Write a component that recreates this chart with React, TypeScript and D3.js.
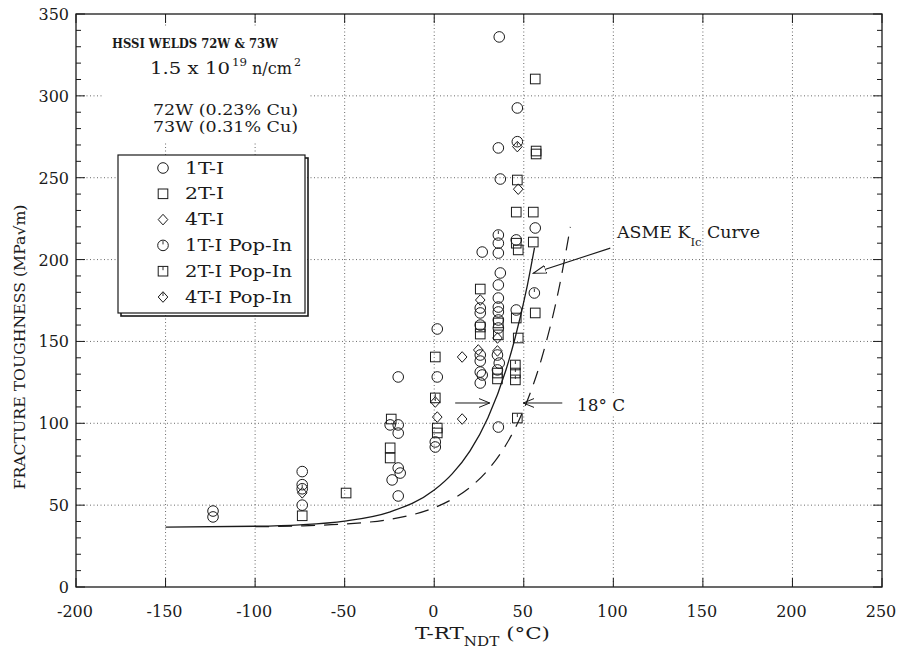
import * as d3 from "d3";

// data points: [T-RTndt (°C), K (MPa√m)]
const oneT: [number, number][] = [
  [-123.5, 46.4], [-123.5, 42.8],
  [-73.7, 70.5], [-73.7, 62.5], [-73.7, 50],
  [-20.1, 128.3], [-24.6, 99], [-20.1, 99], [-20.1, 94], [-20.1, 72.7], [-19, 69.6], [-23.5, 65.4], [-20.1, 55.6],
  [1.7, 157.6], [1.7, 128.3], [0.6, 88.6], [0.6, 85.5],
  [26.8, 204.6], [25.7, 170.4], [25.7, 167.4], [25.7, 160], [25.7, 141.7], [25.7, 138], [25.7, 131.3], [26.8, 129.5], [25.7, 124.6],
  [36.3, 336], [35.8, 268.2], [36.9, 249.2], [35.8, 210], [35.8, 204], [36.9, 191.8], [35.8, 184.5], [35.8, 176.5],
  [35.8, 171], [35.8, 168], [35.8, 163.1], [35.8, 158.2], [35.3, 141.7], [36.3, 136.8], [35.3, 132.6], [35.8, 97.7],
  [46.4, 292.6], [46.4, 272], [45.8, 212], [45.8, 169.2],
  [56.4, 219.3],
];
const twoT: [number, number][] = [
  [-73.7, 43.5], [-49.2, 57.4],
  [-24, 102.6], [-24.6, 85], [-24.6, 78.8],
  [0.6, 140.5], [1.7, 97.1], [1.7, 94.1],
  [25.7, 182], [25.7, 158.8], [25.7, 154.5],
  [35.8, 161.3], [35.8, 154], [35.3, 130.7], [35.3, 127.1],
  [46.4, 248.6], [45.8, 229], [45.8, 210], [46.9, 205.9], [45.8, 164.3], [46.9, 152.1],
  [56.4, 310.3], [56.9, 266.3], [56.9, 264.5], [55.3, 229], [55.3, 210.7], [56.4, 167.4],
];
const fourT: [number, number][] = [
  [-73.7, 57.5], [1.7, 103.8], [15.6, 140.5], [15.6, 102.6],
  [25.7, 175.3], [24.6, 144.8], [35.3, 152.1], [35.3, 144.2], [46.9, 243],
];
const oneTPop: [number, number][] = [[-73.7, 60], [35.8, 215], [55.9, 179.6]];
const twoTPop: [number, number][] = [[0.6, 115.5], [45.3, 135.6], [45.3, 130.7], [45.3, 126.5], [46.4, 103.2]];
const fourTPop: [number, number][] = [[0.6, 113], [46.4, 269]];

// ASME KIc curve and the same curve shifted by 18 °C
const kicCurve: [number, number][] = [
  [-150, 36.6], [-100, 37.1], [-75, 38.0], [-50, 40.3], [-25, 45.8], [0, 59.2], [10, 69.1],
  [20, 83.2], [30, 103.4], [40, 132.4], [45, 151.5], [52, 184.3], [56, 207.3],
];
const shiftedCurve: [number, number][] = [
  [-100, 36.8], [-75, 37.3], [-50, 38.5], [-25, 41.3], [0, 48.4], [10, 53.6], [20, 60.9],
  [30, 71.5], [40, 86.7], [50, 108.5], [60, 139.7], [70, 184.3], [76, 220],
];

const xTicks = [-200, -150, -100, -50, 0, 50, 100, 150, 200, 250];
const yTicks = [0, 50, 100, 150, 200, 250, 300, 350];
const legendLabels = ["1T-I", "2T-I", "4T-I", "1T-I Pop-In", "2T-I Pop-In", "4T-I Pop-In"];

const FONT = "'DejaVu Serif', 'Liberation Serif', serif";
const INK = "#1a1a1a";

type Kind = "circle" | "square" | "diamond";

function Marker({ kind, cx, cy, pop }: { kind: Kind; cx: number; cy: number; pop?: boolean }) {
  const s = 5.3;
  let shape;
  if (kind === "circle") shape = <circle cx={cx} cy={cy} r={s} />;
  else if (kind === "square") shape = <rect x={cx - s + 0.5} y={cy - s + 0.5} width={2 * s - 1} height={2 * s - 1} />;
  else shape = <path d={`M${cx},${cy - s}L${cx + s - 0.5},${cy}L${cx},${cy + s}L${cx - s + 0.5},${cy}Z`} />;
  return (
    <g fill="none" stroke={INK} strokeWidth={1}>
      {shape}
      {pop && <line x1={cx} y1={cy - s + 1} x2={cx} y2={cy - 1} strokeWidth={0.9} />}
    </g>
  );
}

export default function App() {
  const width = 901;
  const height = 654;
  const x = d3.scaleLinear().domain([-200, 250]).range([76, 882]);
  const y = d3.scaleLinear().domain([0, 350]).range([587, 14]);

  const line = d3
    .line<[number, number]>()
    .x((d) => x(d[0]))
    .y((d) => y(d[1]))
    .curve(d3.curveMonotoneX);

  const minorY = d3.range(0, 351, 10);
  const series: { pts: [number, number][]; kind: Kind; pop: boolean }[] = [
    { pts: oneT, kind: "circle", pop: false },
    { pts: twoT, kind: "square", pop: false },
    { pts: fourT, kind: "diamond", pop: false },
    { pts: oneTPop, kind: "circle", pop: true },
    { pts: twoTPop, kind: "square", pop: true },
    { pts: fourTPop, kind: "diamond", pop: true },
  ];

  const [x0, x1] = x.range();
  const [y0, y1] = y.range();

  return (
    <svg width={width} height={height} style={{ position: "absolute", left: 0, top: 0, background: "#fff" }}>
      <defs>
        <marker id="vhead" viewBox="0 0 12 10" refX="11" refY="5" markerWidth="12" markerHeight="10" markerUnits="userSpaceOnUse" orient="auto">
          <path d="M0,0.5L11,5L0,9.5" fill="none" stroke={INK} strokeWidth={1} />
        </marker>
        <marker id="thead" viewBox="0 0 14 10" refX="13" refY="5" markerWidth="14" markerHeight="10" markerUnits="userSpaceOnUse" orient="auto">
          <path d="M0,1L13,5L0,9Z" fill="#fff" stroke={INK} strokeWidth={1} />
        </marker>
      </defs>

      {/* dotted grid */}
      <g stroke="#444" strokeWidth={0.8} strokeDasharray="1 2.5">
        {xTicks.slice(1, -1).map((t) => (
          <line key={"gx" + t} x1={x(t)} x2={x(t)} y1={y1} y2={y0} />
        ))}
        {yTicks.slice(1, -1).map((t) => (
          <line key={"gy" + t} x1={x0} x2={x1} y1={y(t)} y2={y(t)} />
        ))}
      </g>

      {/* white patches behind the header and annotation */}
      <rect x={104} y={28} width={206} height={113} fill="#fff" />
      <rect x={572} y={394} width={58} height={22} fill="#fff" />

      {/* frame and ticks */}
      <rect x={x0} y={y1} width={x1 - x0} height={y0 - y1} fill="none" stroke={INK} strokeWidth={1.3} />
      <g stroke={INK} strokeWidth={1}>
        {minorY.map((t) => {
          const len = t % 50 === 0 ? 9 : 5;
          return (
            <g key={"ty" + t}>
              <line x1={x0} x2={x0 + len} y1={y(t)} y2={y(t)} />
              <line x1={x1} x2={x1 - len} y1={y(t)} y2={y(t)} />
            </g>
          );
        })}
        {xTicks.map((t) => (
          <g key={"tx" + t}>
            <line x1={x(t)} x2={x(t)} y1={y0} y2={y0 - 9} />
            <line x1={x(t)} x2={x(t)} y1={y1} y2={y1 + 9} />
          </g>
        ))}
      </g>

      {/* tick labels */}
      <g fontFamily={FONT} fontSize={16} fill={INK}>
        {yTicks.map((t) => (
          <text key={"ly" + t} x={69} y={y(t) + 6} textAnchor="end">{t}</text>
        ))}
        {xTicks.map((t) => (
          <text key={"lx" + t} x={x(t) - 1} y={617} textAnchor="middle">{t}</text>
        ))}
      </g>

      {/* axis titles */}
      <text
        fontFamily={FONT}
        fontSize={15}
        fill={INK}
        textAnchor="middle"
        textLength={285}
        lengthAdjust="spacingAndGlyphs"
        transform="translate(25,347) rotate(-90)"
      >
        FRACTURE TOUGHNESS (MPa√m)
      </text>
      <text fontFamily={FONT} fontSize={17} fill={INK} x={415} y={639} textLength={135} lengthAdjust="spacingAndGlyphs">
        T-RT
        <tspan fontSize={12} dy={7}>NDT</tspan>
        <tspan dy={-7}> (°C)</tspan>
      </text>

      {/* curves */}
      <path d={line(kicCurve) || ""} fill="none" stroke={INK} strokeWidth={1.3} />
      <path d={line(shiftedCurve) || ""} fill="none" stroke={INK} strokeWidth={1.2} strokeDasharray="14 9" />

      {/* data */}
      {series.map((s, i) =>
        s.pts.map((p, j) => (
          <Marker key={`m${i}-${j}`} kind={s.kind} pop={s.pop} cx={x(p[0])} cy={y(p[1])} />
        ))
      )}

      {/* annotations */}
      <line x1={x(98.3)} y1={y(207)} x2={x(55.3)} y2={y(191.6)} stroke={INK} strokeWidth={1.1} markerEnd="url(#thead)" />
      <text fontFamily={FONT} fontSize={16.5} fill={INK} x={617} y={238} textLength={143} lengthAdjust="spacingAndGlyphs">
        ASME K<tspan fontSize={11} dy={8}>Ic</tspan>
        <tspan dy={-8}> Curve</tspan>
      </text>
      <line x1={x(11.7)} y1={y(112.4)} x2={x(31)} y2={y(112.4)} stroke={INK} strokeWidth={1} markerEnd="url(#vhead)" />
      <line x1={x(71.5)} y1={y(112.4)} x2={x(49.7)} y2={y(112.4)} stroke={INK} strokeWidth={1} markerEnd="url(#vhead)" />
      <text fontFamily={FONT} fontSize={16.5} fill={INK} x={577} y={411} textLength={48} lengthAdjust="spacingAndGlyphs">18° C</text>

      {/* header text */}
      <g fontFamily={FONT} fill={INK}>
        <text x={112} y={48} fontSize={13} fontWeight="bold" textLength={166} lengthAdjust="spacingAndGlyphs">
          HSSI WELDS 72W &amp; 73W
        </text>
        <text x={150} y={74} fontSize={16} textLength={80} lengthAdjust="spacingAndGlyphs">1.5 x 10</text>
        <text x={232} y={66} fontSize={11} textLength={15} lengthAdjust="spacingAndGlyphs">19</text>
        <text x={252} y={74} fontSize={16} textLength={40} lengthAdjust="spacingAndGlyphs">n/cm</text>
        <text x={294} y={66} fontSize={11}>2</text>
        <text x={153} y={115} fontSize={15.5} textLength={145} lengthAdjust="spacingAndGlyphs">72W (0.23% Cu)</text>
        <text x={153} y={132} fontSize={15.5} textLength={145} lengthAdjust="spacingAndGlyphs">73W (0.31% Cu)</text>
      </g>

      {/* legend */}
      <g>
        <rect x={121} y={158} width={187} height={158} fill="none" stroke={INK} strokeWidth={1.6} />
        <rect x={118} y={155} width={187} height={158} fill="#fff" stroke={INK} strokeWidth={1.2} />
        {legendLabels.map((lab, i) => {
          const ly = 168 + i * 25.8;
          const kind: Kind = i % 3 === 0 ? "circle" : i % 3 === 1 ? "square" : "diamond";
          return (
            <g key={lab}>
              <Marker kind={kind} cx={163} cy={ly} pop={i >= 3} />
              <text
                x={185}
                y={ly + 5.5}
                fontFamily={FONT}
                fontSize={16}
                fill={INK}
                textLength={i >= 3 ? 107 : 39}
                lengthAdjust="spacingAndGlyphs"
              >
                {lab}
              </text>
            </g>
          );
        })}
      </g>
    </svg>
  );
}
